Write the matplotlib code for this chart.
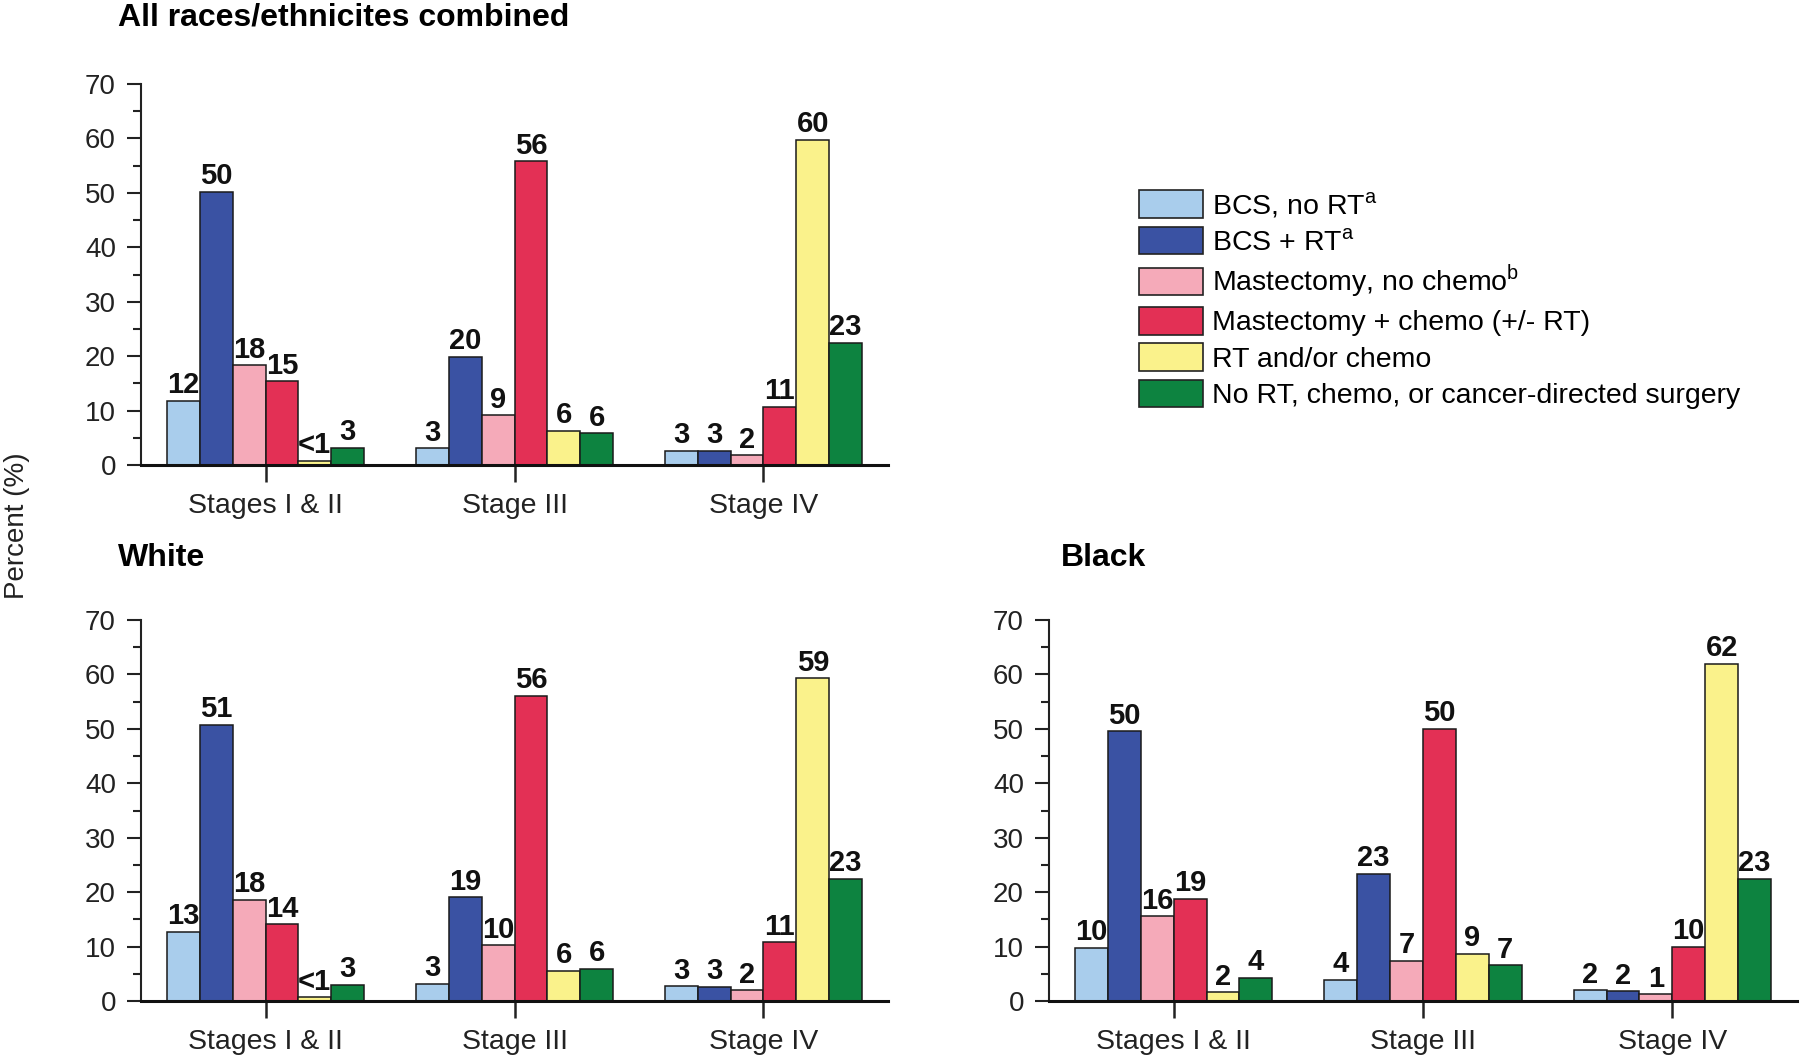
import matplotlib
matplotlib.use('Agg')
import matplotlib.pyplot as plt
from matplotlib.patches import Patch
import numpy as np

plt.rcParams['font.family'] = ['Liberation Sans', 'DejaVu Sans']
plt.rcParams['mathtext.fontset'] = 'custom'
plt.rcParams['mathtext.rm'] = 'Liberation Sans'

# categories / series
stages = ['Stages I & II', 'Stage III', 'Stage IV']
treatments = [r'BCS, no RT$^{\mathrm{a}}$',
              r'BCS + RT$^{\mathrm{a}}$',
              r'Mastectomy, no chemo$^{\mathrm{b}}$',
              'Mastectomy + chemo (+/- RT)',
              'RT and/or chemo',
              'No RT, chemo, or cancer-directed surgery']
colors = ['#A9CDEC', '#3A52A3', '#F5AAB9', '#E33055', '#FAF28B', '#0D8340']

# bar heights per stage (rows) and treatment (columns)
all_vals = [[11.8, 50.2, 18.3, 15.4, 0.8, 3.2],
            [3.1, 19.9, 9.1, 55.8, 6.3, 5.8],
            [2.6, 2.6, 1.8, 10.7, 59.8, 22.5]]
all_labels = [['12', '50', '18', '15', '<1', '3'],
              ['3', '20', '9', '56', '6', '6'],
              ['3', '3', '2', '11', '60', '23']]

white_vals = [[12.7, 50.8, 18.6, 14.1, 0.7, 3.0],
              [3.2, 19.1, 10.3, 56.1, 5.6, 5.9],
              [2.7, 2.6, 2.0, 10.8, 59.3, 22.5]]
white_labels = [['13', '51', '18', '14', '<1', '3'],
                ['3', '19', '10', '56', '6', '6'],
                ['3', '3', '2', '11', '59', '23']]

black_vals = [[9.8, 49.6, 15.6, 18.8, 1.6, 4.3],
              [3.9, 23.4, 7.4, 50.0, 8.7, 6.6],
              [2.0, 1.8, 1.3, 10.0, 62.0, 22.5]]
black_labels = [['10', '50', '16', '19', '2', '4'],
                ['4', '23', '7', '50', '9', '7'],
                ['2', '2', '1', '10', '62', '23']]

W, H = 1800, 1063
fig = plt.figure(figsize=(W / 100, H / 100), dpi=100)


def px_axes(x0, x1, ytop, ybot):
    return fig.add_axes([x0 / W, 1 - ybot / H, (x1 - x0) / W, (ybot - ytop) / H])


def draw_panel(ax, vals, labels):
    x = np.arange(len(stages))
    w = 0.132
    for i in range(len(treatments)):
        hs = [vals[s][i] for s in range(len(stages))]
        pos = x + (i - 2.5) * w
        ax.bar(pos, hs, w, color=colors[i], edgecolor='#1a1a1a', linewidth=1.1, zorder=2)
        for s in range(len(stages)):
            ax.annotate(labels[s][i], (pos[s], hs[s]), xytext=(0, 1),
                        textcoords='offset points', ha='center', va='bottom',
                        fontsize=21, fontweight='bold', color='#111')
    ax.set_xlim(-0.5, 2.5)
    ax.set_ylim(0, 70)
    ax.set_xticks(x)
    ax.set_xticklabels(stages, fontsize=20.5)
    ax.set_yticks(range(0, 71, 10))
    ax.set_yticks(range(5, 70, 10), minor=True)
    ax.tick_params(axis='y', which='major', length=10, width=1.5, pad=8,
                   labelsize=20, colors='#222')
    ax.tick_params(axis='y', which='minor', length=5.5, width=1.5, colors='#222')
    ax.tick_params(axis='x', which='major', length=12, width=1.8, pad=8, colors='#222')
    for sp in ['top', 'right']:
        ax.spines[sp].set_visible(False)
    ax.spines['left'].set_linewidth(1.5)
    ax.spines['left'].set_color('#222')
    ax.spines['bottom'].set_linewidth(2.2)
    ax.spines['bottom'].set_color('#111')
    ax.spines['bottom'].set_zorder(3)


ax1 = px_axes(141, 888, 84, 465)
draw_panel(ax1, all_vals, all_labels)
ax2 = px_axes(141, 888, 620, 1001)
draw_panel(ax2, white_vals, white_labels)
ax3 = px_axes(1049, 1797, 620, 1001)
draw_panel(ax3, black_vals, black_labels)

fig.text(118 / W, 1 - 17 / H, 'All races/ethnicites combined', fontsize=23,
         fontweight='bold', va='center', ha='left')
fig.text(118 / W, 1 - 558 / H, 'White', fontsize=23, fontweight='bold',
         va='center', ha='left')
fig.text(1061 / W, 1 - 558 / H, 'Black', fontsize=23, fontweight='bold',
         va='center', ha='left')
fig.text(17 / W, 1 - 526 / H, 'Percent (%)', fontsize=20, rotation=90,
         va='center', ha='center', color='#222')

handles = [Patch(facecolor=c, edgecolor='#222', linewidth=1.2) for c in colors]
fig.legend(handles, treatments, loc='upper left',
           bbox_to_anchor=(1139 / W, 1 - 190 / H), frameon=False,
           fontsize=20.5, handlelength=2.25, handleheight=1.12,
           handletextpad=0.32, labelspacing=0.24, borderpad=0, borderaxespad=0)

fig.savefig('out.png', dpi=100)
